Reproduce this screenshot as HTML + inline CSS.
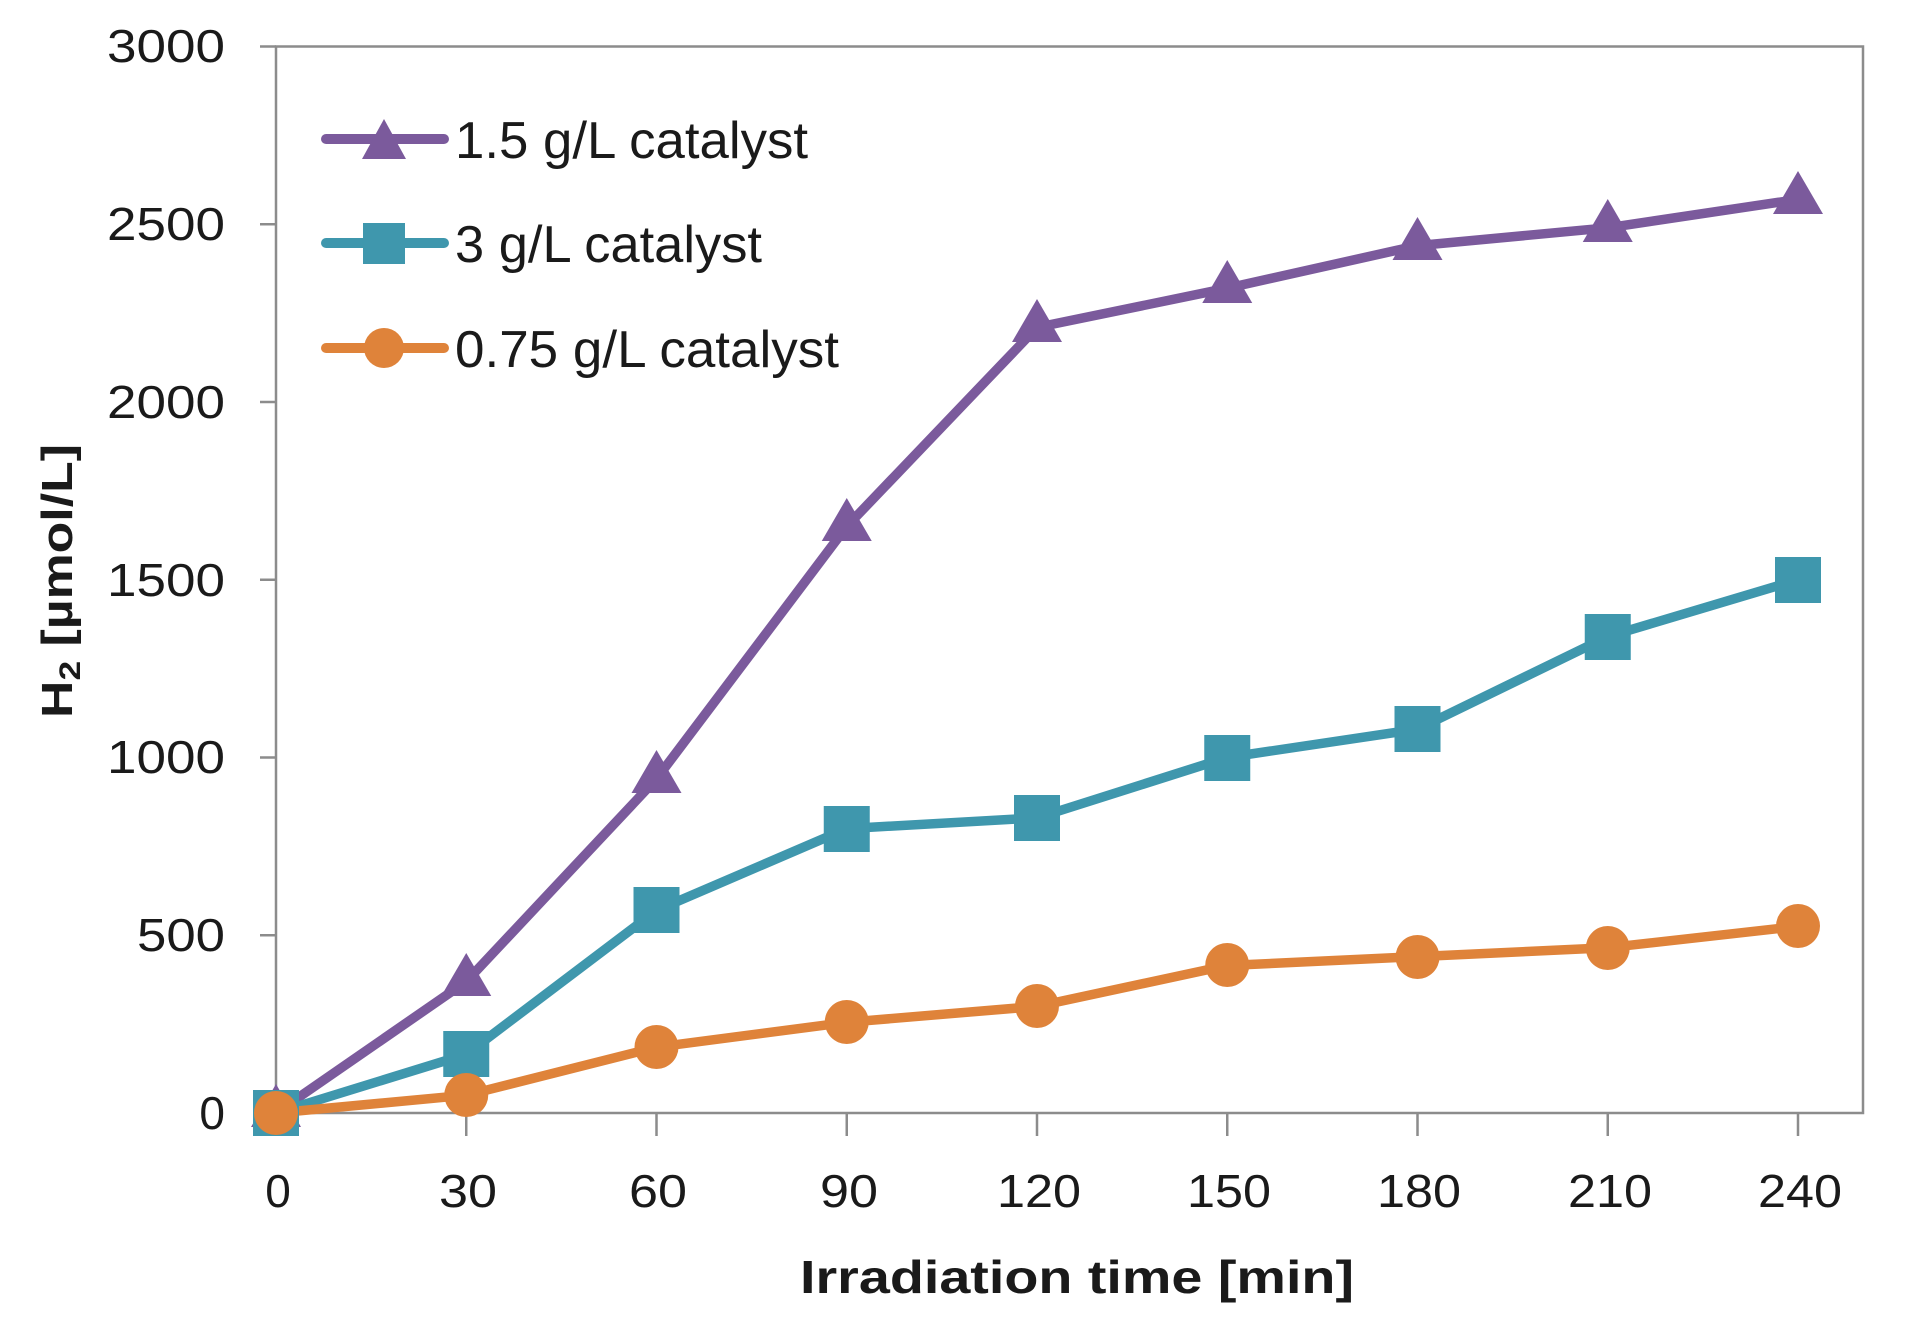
<!DOCTYPE html>
<html><head><meta charset="utf-8"><style>
html,body{margin:0;padding:0;background:#fff;}
svg{display:block;}
text{font-family:"Liberation Sans",sans-serif;fill:#1a1a1a;}
</style></head><body>
<svg width="1916" height="1320" viewBox="0 0 1916 1320" xmlns="http://www.w3.org/2000/svg">
<g stroke="#8c8c8c" stroke-width="2.5" fill="none">
<rect x="276" y="46.5" width="1587" height="1066.5"/>
<path d="M260 46.5H276M260 224.3H276M260 402H276M260 579.8H276M260 757.5H276M260 935.3H276M260 1113H276"/>
<path d="M276 1113V1136M466.25 1113V1136M656.5 1113V1136M846.75 1113V1136M1037 1113V1136M1227.25 1113V1136M1417.5 1113V1136M1607.75 1113V1136M1798 1113V1136"/>
</g>
<g font-size="46" text-anchor="end">
<text x="225" y="62" textLength="118" lengthAdjust="spacingAndGlyphs">3000</text>
<text x="225" y="240" textLength="118" lengthAdjust="spacingAndGlyphs">2500</text>
<text x="225" y="418" textLength="118" lengthAdjust="spacingAndGlyphs">2000</text>
<text x="225" y="596" textLength="118" lengthAdjust="spacingAndGlyphs">1500</text>
<text x="225" y="773" textLength="118" lengthAdjust="spacingAndGlyphs">1000</text>
<text x="225" y="951" textLength="88" lengthAdjust="spacingAndGlyphs">500</text>
<text x="225" y="1129">0</text>
</g>
<g font-size="46" text-anchor="middle">
<text x="278" y="1207">0</text>
<text x="468" y="1207" textLength="58" lengthAdjust="spacingAndGlyphs">30</text>
<text x="658" y="1207" textLength="58" lengthAdjust="spacingAndGlyphs">60</text>
<text x="849" y="1207" textLength="58" lengthAdjust="spacingAndGlyphs">90</text>
<text x="1039" y="1207" textLength="84" lengthAdjust="spacingAndGlyphs">120</text>
<text x="1229" y="1207" textLength="84" lengthAdjust="spacingAndGlyphs">150</text>
<text x="1419" y="1207" textLength="84" lengthAdjust="spacingAndGlyphs">180</text>
<text x="1610" y="1207" textLength="84" lengthAdjust="spacingAndGlyphs">210</text>
<text x="1800" y="1207" textLength="84" lengthAdjust="spacingAndGlyphs">240</text>
</g>
<text x="1077" y="1293" font-size="46" font-weight="bold" text-anchor="middle" textLength="554" lengthAdjust="spacingAndGlyphs">Irradiation time [min]</text>
<text transform="translate(72,581) rotate(-90)" font-size="44" font-weight="bold" text-anchor="middle" textLength="274" lengthAdjust="spacingAndGlyphs">H<tspan font-size="30" dy="8">2</tspan><tspan dy="-8"> [µmol/L]</tspan></text>
<g fill="none" stroke-width="9.5" stroke-linejoin="round" stroke-linecap="round">
<polyline stroke="#7b5a9c" points="276,1113 466.25,981.5 656.5,778.8 846.75,526.4 1037,327.4 1227.25,288.2 1417.5,245.6 1607.75,227.8 1798,199.4"/>
<polyline stroke="#3f97ad" points="276,1113 466.25,1054.3 656.5,910.4 846.75,828.6 1037,817.9 1227.25,757.5 1417.5,729.1 1607.75,636.6 1798,579.8"/>
<polyline stroke="#df833a" points="276,1113 466.25,1095.2 656.5,1047.2 846.75,1022.3 1037,1006.4 1227.25,965.5 1417.5,956.6 1607.75,947.7 1798,926.4"/>
</g>
<g fill="#7b5a9c">
<path d="M276 1084l25 43h-50z"/><path d="M466.25 953l25 43h-50z"/><path d="M656.5 750l25 43h-50z"/><path d="M846.75 498l25 43h-50z"/><path d="M1037 299l25 43h-50z"/><path d="M1227.25 260l25 43h-50z"/><path d="M1417.5 217l25 43h-50z"/><path d="M1607.75 199l25 43h-50z"/><path d="M1798 171l25 43h-50z"/>
</g>
<g fill="#3f97ad">
<rect x="253" y="1090" width="46" height="46"/><rect x="443.25" y="1031" width="46" height="46"/><rect x="633.5" y="887" width="46" height="46"/><rect x="823.75" y="806" width="46" height="46"/><rect x="1014" y="795" width="46" height="46"/><rect x="1204.25" y="735" width="46" height="46"/><rect x="1394.5" y="706" width="46" height="46"/><rect x="1584.75" y="614" width="46" height="46"/><rect x="1775" y="557" width="46" height="46"/>
</g>
<g fill="#df833a">
<circle cx="276" cy="1113" r="22"/><circle cx="466.25" cy="1095" r="22"/><circle cx="656.5" cy="1047" r="22"/><circle cx="846.75" cy="1022" r="22"/><circle cx="1037" cy="1006" r="22"/><circle cx="1227.25" cy="965" r="22"/><circle cx="1417.5" cy="957" r="22"/><circle cx="1607.75" cy="948" r="22"/><circle cx="1798" cy="926" r="22"/>
</g>
<g stroke-width="10" stroke-linecap="round">
<line x1="326" y1="139" x2="444" y2="139" stroke="#7b5a9c"/>
<line x1="326" y1="243" x2="444" y2="243" stroke="#3f97ad"/>
<line x1="326" y1="348" x2="444" y2="348" stroke="#df833a"/>
</g>
<path d="M384 119l22 40h-44z" fill="#7b5a9c"/>
<rect x="363" y="223" width="42" height="41" fill="#3f97ad"/>
<circle cx="384" cy="348" r="20" fill="#df833a"/>
<g font-size="52">
<text x="455" y="158" textLength="353" lengthAdjust="spacingAndGlyphs">1.5 g/L catalyst</text>
<text x="455" y="262" textLength="307" lengthAdjust="spacingAndGlyphs">3 g/L catalyst</text>
<text x="455" y="367" textLength="384" lengthAdjust="spacingAndGlyphs">0.75 g/L catalyst</text>
</g>
</svg>
</body></html>
